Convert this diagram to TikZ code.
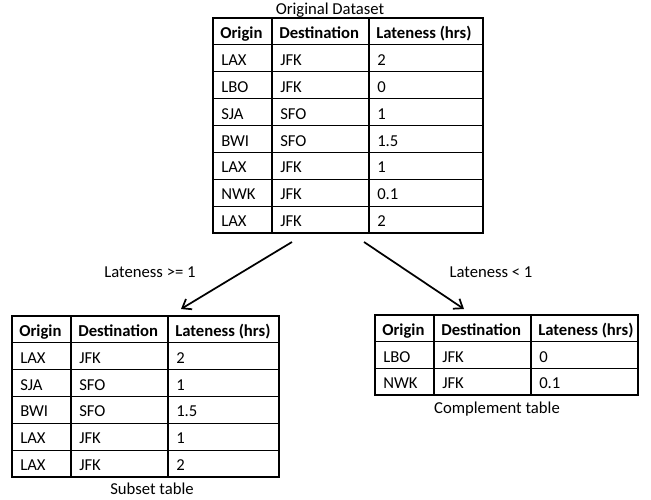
\documentclass[tikz,border=0pt]{standalone}
\usepackage{fontspec}
\setmainfont{Carlito}
\usetikzlibrary{arrows.meta,fit}
\tikzset{
  cell/.style={anchor=base west, inner sep=0pt, font=\fontsize{12.5}{15}\selectfont},
  headcell/.style={cell, font=\fontsize{12.5}{15}\selectfont\bfseries},
  caption/.style={anchor=base, inner sep=0pt, font=\fontsize{12.5}{15}\selectfont},
  gridline/.style={line width=0.8pt, draw=black},
  arr/.style={line width=1.3pt, -{Straight Barb[length=6pt,width=9pt,line width=1.3pt]}},
  tablebox/.style={inner sep=0pt, draw=none}
}
% #1 x0, #2 x1, #3 x2, #4 x3, #5 y top, #6 row height, #7 number of rows, #8 list of rows (a/b/c)
\newcommand\mytable[8]{%
  \draw[gridline] (#1,#5) rectangle (#4,{#5+#7*#6});
  \draw[gridline] (#2,#5) -- (#2,{#5+#7*#6});
  \draw[gridline] (#3,#5) -- (#3,{#5+#7*#6});
  \foreach \i in {1,...,\numexpr#7-1\relax}{\draw[gridline] (#1,{#5+\i*#6}) -- (#4,{#5+\i*#6});}
  \node[headcell] at ({#1+7},{#5+20}) {Origin};
  \node[headcell] at ({#2+7},{#5+20}) {Destination};
  \node[headcell] at ({#3+7},{#5+20}) {Lateness (hrs)};
  \foreach [count=\r] \a/\b/\c in {#8}{%
    \node[cell] at ({#1+8},{#5+\r*#6+20.5}) {\a};
    \node[cell] at ({#2+8},{#5+\r*#6+20.5}) {\b};
    \node[cell] at ({#3+8},{#5+\r*#6+20.5}) {\c};
  }%
}
\begin{document}
\begin{tikzpicture}[x=0.75pt,y=-0.75pt]
\useasboundingbox (0,0) rectangle (651,500);
% original dataset
\mytable{213}{272}{369}{483}{18}{26.875}{8}{LAX/JFK/2,LBO/JFK/0,SJA/SFO/1,BWI/SFO/1.5,LAX/JFK/1,NWK/JFK/0.1,LAX/JFK/2}
\node[tablebox, fit={(213,18)(483,233)}] (orig) {};
\node[caption] (origcap) at (330,14) {Original Dataset};
% subset table
\mytable{12}{71}{168}{279}{316}{26.83}{6}{LAX/JFK/2,SJA/SFO/1,BWI/SFO/1.5,LAX/JFK/1,LAX/JFK/2}
\node[tablebox, fit={(12,316)(279,477)}] (subset) {};
\node[caption] (subcap) at (152,494) {Subset table};
% complement table
\mytable{375}{434}{531}{638}{315}{26.67}{3}{LBO/JFK/0,NWK/JFK/0.1}
\node[tablebox, fit={(375,315)(638,395)}] (comp) {};
\node[caption] (compcap) at (497,413) {Complement table};
% arrows
\coordinate (s1) at (292,242);
\coordinate (e1) at (181,309);
\coordinate (s2) at (364,242);
\coordinate (e2) at (464,309);
\draw[arr] (s1) -- (e1);
\draw[arr] (s2) -- (e2);
\node[caption] (lab1) at (150,277) {Lateness >= 1};
\node[caption] (lab2) at (491,277) {Lateness < 1};
\end{tikzpicture}
\end{document}
